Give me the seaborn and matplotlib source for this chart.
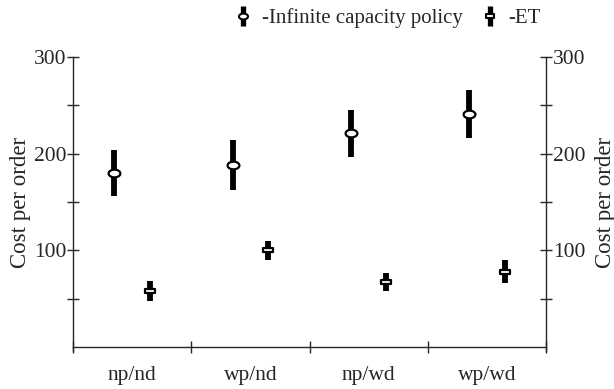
"""Cost per order: infinite capacity policy vs ET, with error bars."""
import numpy as np
import pandas as pd
import seaborn as sns
import matplotlib
matplotlib.use('Agg')
import matplotlib.pyplot as plt
from matplotlib.path import Path
from matplotlib.lines import Line2D
from matplotlib.legend_handler import HandlerTuple
from matplotlib.ticker import FixedLocator, NullFormatter

categories = ['np/nd', 'wp/nd', 'np/wd', 'wp/wd']
policies = ['-Infinite capacity policy', '-ET']
inf_mean = [180, 188, 221, 241]
inf_err = [24, 26, 24, 25]
et_mean = [58, 100, 67, 78]
et_err = [10, 9.5, 9.5, 12]

# long table: low / centre / high per category, median = centre, range = bar
rows = []
for pol, means, errs in [(policies[0], inf_mean, inf_err), (policies[1], et_mean, et_err)]:
    for c, m, e in zip(categories, means, errs):
        for v in (m - e, m, m + e):
            rows.append({'case': c, 'policy': pol, 'cost': v})
df = pd.DataFrame(rows)

sns.set_style('ticks')
plt.rcParams['font.family'] = ['Liberation Serif', 'DejaVu Serif']
plt.rcParams['font.size'] = 15.5

# custom markers: flat ellipse and flat rectangle
t = np.linspace(0, 2 * np.pi, 60)
ellipse = Path(np.column_stack([np.cos(t), 0.65 * np.sin(t)]), closed=True)
rect = Path([(-1, -0.4), (1, -0.4), (1, 0.4), (-1, 0.4), (-1, -0.4)], closed=True)
mk_style = {policies[0]: (ellipse, 8.5), policies[1]: (rect, 7.5)}

fig = plt.figure(figsize=(6.14, 3.89), dpi=100)
ax = fig.add_axes([73 / 614, 1 - 347 / 389, 473 / 614, 290 / 389])

sns.pointplot(data=df, x='case', y='cost', hue='policy', order=categories,
              hue_order=policies, estimator='median',
              errorbar=lambda v: (v.min(), v.max()),
              dodge=0.3, linestyle='none', markers=[ellipse, rect],
              palette=['black', 'black'], markersize=8,
              err_kws={'linewidth': 4.2, 'solid_capstyle': 'butt'}, ax=ax)

pts = [ln for ln in ax.lines if len(ln.get_xdata()) == len(categories)]
for ln, pol in zip(pts, policies):
    mk, ms = mk_style[pol]
    ln.set_marker(mk)
    ln.set_markersize(ms)
    ln.set_markerfacecolor('white')
    ln.set_markeredgecolor('black')
    ln.set_markeredgewidth(1.6)
    ln.set_zorder(5)

ax.get_legend().remove()
ax.set_xlim(-0.5, 3.5)
ax.set_ylim(0, 300)
ax.set_xlabel('')
ax.set_ylabel('Cost per order', fontsize=16.5, labelpad=2)

ax.xaxis.set_major_locator(FixedLocator([-0.5, 0.5, 1.5, 2.5, 3.5]))
ax.xaxis.set_major_formatter(NullFormatter())
ax.xaxis.set_minor_locator(FixedLocator(range(len(categories))))
ax.set_xticklabels(categories, minor=True)
ax.tick_params(axis='x', which='major', direction='inout', length=8, width=1)
ax.tick_params(axis='x', which='minor', length=0, pad=14)

ax.yaxis.set_major_locator(FixedLocator([100, 200, 300]))
ax.yaxis.set_minor_locator(FixedLocator([50, 150, 250]))
ax.tick_params(axis='y', which='both', direction='inout', length=8, width=1, pad=1)
sns.despine(ax=ax, top=True, right=True)

ax2 = ax.twinx()
ax2.set_ylim(0, 300)
ax2.yaxis.set_major_locator(FixedLocator([100, 200, 300]))
ax2.yaxis.set_minor_locator(FixedLocator([50, 150, 250]))
ax2.tick_params(axis='y', which='both', direction='inout', length=8, width=1, pad=1)
ax2.set_ylabel('Cost per order', fontsize=16.5, labelpad=7)
for s in ['top', 'left', 'bottom']:
    ax2.spines[s].set_visible(False)
ax2.spines['right'].set_bounds(-4, 300)

for a in (ax, ax2):
    for s in a.spines.values():
        s.set_linewidth(1)
ax.spines['left'].set_bounds(-4, 300)

bar = dict(marker='|', markersize=14, markeredgewidth=3.8, color='black', linestyle='none')
h_inf = (Line2D([], [], **bar),
         Line2D([], [], marker=ellipse, markersize=6.5, markerfacecolor='white',
                markeredgecolor='black', markeredgewidth=1.5, linestyle='none'))
h_et = (Line2D([], [], **bar),
        Line2D([], [], marker=rect, markersize=6, markerfacecolor='white',
               markeredgecolor='black', markeredgewidth=1.5, linestyle='none'))
fig.legend([h_inf, h_et], policies, handler_map={tuple: HandlerTuple(ndivide=1, pad=0)},
           loc='upper left', bbox_to_anchor=(234 / 614, 1 - 8 / 389), ncol=2, frameon=False,
           borderpad=0, borderaxespad=0, handlelength=0.9, handletextpad=0.43,
           columnspacing=0.85, fontsize=15)

fig.savefig('out.png', dpi=100)
